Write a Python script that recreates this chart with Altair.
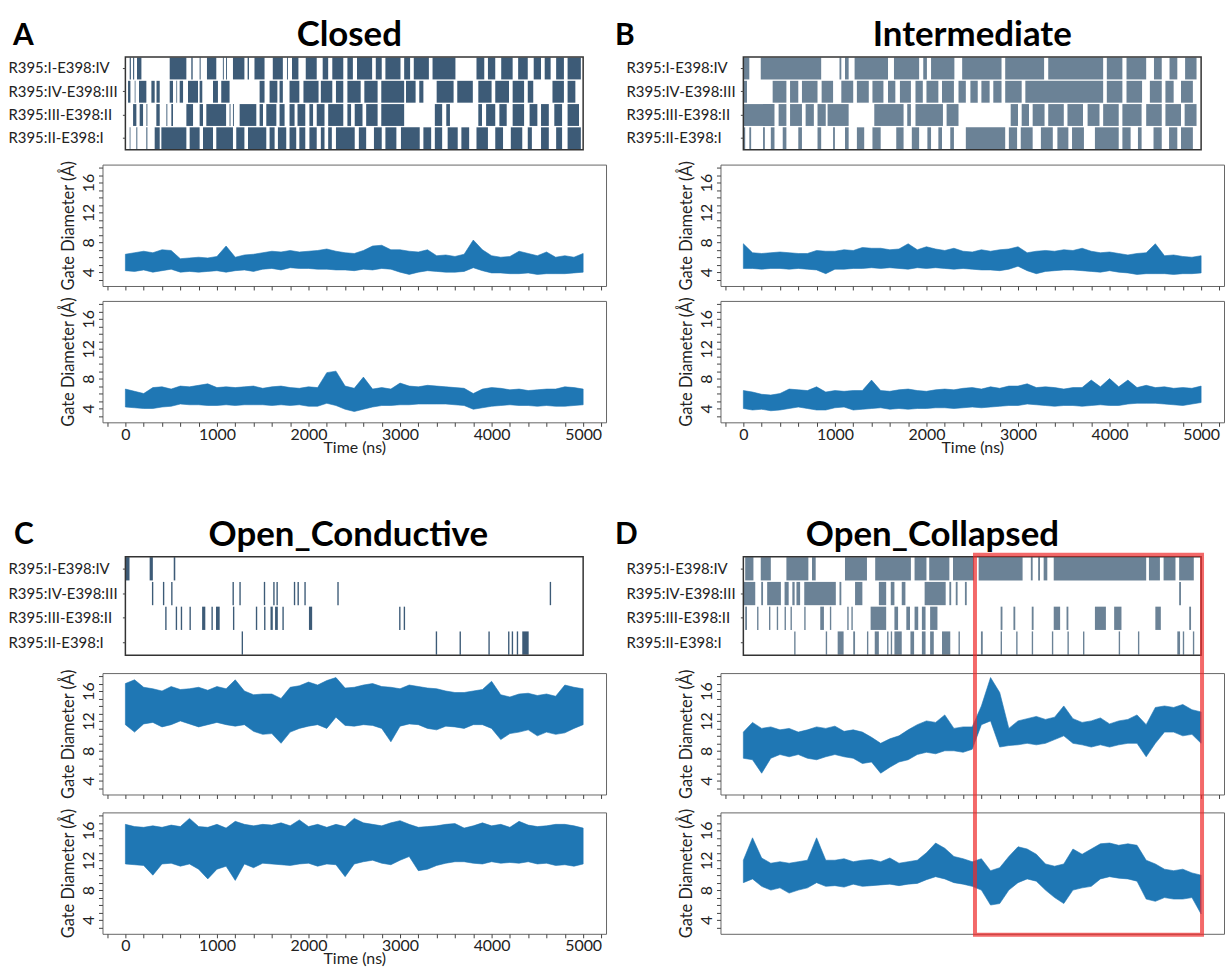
import altair as alt
import pandas as pd

ROWS = ["R395:I-E398:IV", "R395:IV-E398:III", "R395:III-E398:II", "R395:II-E398:I"]
T = list(range(0, 5001, 100))
X_TICKS = list(range(-200, 5201, 200))
BC_TICKS = list(range(0, 5001, 200))
Y_TICKS = list(range(3, 19))

# ---- contact barcodes: [start, end, start, end, ...] in ns ----
A_R1 = [47,60, 84,96, 127,175, 484,666, 720,735, 811,822, 891,993, 1065,1075, 1100,1110, 1175,1300, 1335,1350, 1410,1520, 1610,1720, 1765,1775, 1820,1890, 1970,2090, 2155,2215, 2260,2380, 2425,2485, 2530,2695, 2735,2800, 2840,3005, 3045,3110, 3150,3315, 3355,3605, 3835,3920, 3960,4040, 4105,4230, 4290,4395, 4460,4540, 4580,4645, 4705,4790, 4830,4975]
A_R2 = [29,55, 102,110, 149,229, 284,320, 340,375, 484,520, 557,565, 593,630, 684,793, 811,840, 957,1011, 1047,1138, 1466,1520, 1575,1660, 1684,1720, 1793,1900, 1945,2110, 2135,2260, 2300,2380, 2425,2570, 2610,2755, 2795,3045, 3065,3170, 3210,3255, 3400,3585, 3625,3795, 3855,4000, 4040,4190, 4230,4355, 4395,4455, 4665,4790, 4830,4915]
A_R3 = [84,120, 156,193, 230,240, 338,375, 448,458, 502,520, 666,739, 811,848, 884,1100, 1138,1148, 1175,1185, 1248,1430, 1466,1503, 1539,1649, 1684,1739, 1793,1848, 1880,1965, 2010,2050, 2090,2175, 2215,2380, 2425,2465, 2505,2590, 2630,2755, 2795,3045, 3380,3460, 3505,3545, 3855,3895, 3940,4040, 4085,4165, 4230,4355, 4415,4500, 4540,4625, 4685,4770, 4830,4955]
A_R4 = [47,55, 120,130, 229,240, 320,375, 393,666, 702,811, 848,957, 993,1175, 1211,1300, 1339,1539, 1575,1630, 1666,1757, 1793,1866, 1900,1965, 2010,2090, 2135,2175, 2215,2255, 2300,2505, 2550,2630, 2715,2800, 2840,2960, 3010,3215, 3255,3340, 3380,3460, 3520,3630, 3670,3755, 3835,3960, 4040,4125, 4210,4335, 4395,4440, 4540,4625, 4705,4770, 4830,4975]

B_R1 = [0,65, 190,850, 1050,1070, 1110,1150, 1215,1580, 1645,1920, 1965,2005, 2050,2305, 2390,2820, 2860,3285, 3330,3930, 3970,4140, 4185,4400, 4485,4570, 4655,4740, 4825,4950]
B_R2 = [0,40, 320,470, 510,600, 640,810, 855,980, 1070,1200, 1240,1370, 1410,1530, 1580,1660, 1710,1830, 1880,1960, 2000,2130, 2170,2300, 2350,2430, 2480,2560, 2600,2690, 2730,2820, 2860,3040, 3080,3930, 3970,4140, 4185,4355, 4440,4570, 4610,4700, 4780,4910]
B_R3 = [0,340, 385,470, 510,640, 680,770, 810,900, 920,1150, 1430,1750, 1790,1830, 1880,2180, 2220,2350, 2920,3000, 3040,3120, 3160,3290, 3330,3500, 3540,3710, 3760,3890, 3930,4100, 4140,4350, 4400,4570, 4610,4780, 4820,4950]
B_R4 = [0,20, 65,85, 215,235, 300,340, 430,470, 600,640, 810,850, 980,1000, 1110,1150, 1240,1320, 1410,1500, 1670,1750, 1840,1920, 2010,2050, 2130,2170, 2260,2300, 2430,2860, 2900,2990, 3030,3160, 3250,3380, 3430,3550, 3590,3720, 3840,4100, 4140,4230, 4310,4350, 4480,4570, 4650,4740, 4780,4910]

C_R1 = [0,45, 265,300, 528,545]
C_R2 = [290,305, 410,425, 500,515, 1170,1185, 1245,1260, 1512,1527, 1615,1630, 1650,1665, 1840,1855, 1880,1895, 1955,1970, 2315,2330, 4635,4650]
C_R3 = [435,450, 550,565, 605,620, 700,715, 838,873, 940,955, 990,1030, 1175,1190, 1425,1440, 1515,1530, 1585,1610, 1635,1665, 1715,1730, 2005,2040, 2990,3005, 3040,3055]
C_R4 = [1270,1285, 3390,3405, 3650,3665, 3965,3980, 4180,4195, 4220,4235, 4275,4290, 4335,4405]

D_R1 = [20,110, 190,300, 470,710, 750,790, 1110,1350, 1440,1830, 1870,2000, 2030,2250, 2290,2520, 2570,3050, 3140,3160, 3220,3240, 3280,3320, 3390,4400, 4430,4550, 4590,4720, 4760,4920]
D_R2 = [0,130, 195,215, 260,410, 450,495, 535,560, 580,620, 665,1010, 1050,1070, 1220,1300, 1480,1560, 1610,1650, 1730,1770, 1980,2210, 2250,2270, 2320,2340, 2420,2440, 4760,4780]
D_R3 = [20,40, 150,165, 280,295, 365,380, 450,465, 515,530, 665,680, 840,880, 945,960, 1135,1150, 1180,1195, 1390,1560, 1650,1690, 1780,1820, 1870,1910, 1950,1990, 2040,2120, 2810,2830, 2950,2970, 3150,3170, 3390,3460, 3530,3550, 3840,3960, 4050,4130, 4500,4560, 4870,4890]
D_R4 = [555,570, 900,915, 1030,1095, 1200,1220, 1350,1365, 1435,1480, 1570,1585, 1610,1625, 1650,1730, 1825,1865, 1950,1990, 2040,2080, 2170,2260, 2350,2365, 2595,2615, 2810,2825, 2980,2995, 3150,3165, 3370,3385, 3540,3555, 3710,3725, 4100,4115, 4310,4325, 4740,4770, 4800,4815, 4910,4925]

# ---- gate diameter envelopes (min / max) every 100 ns ----
A1_LO = [4.2,4.1,4.3,4.0,4.2,4.4,4.0,4.1,4.0,4.1, 4.2,4.0,4.2,4.3,4.1,4.4,4.5,4.3,4.6,4.5, 4.5,4.4,4.4,4.3,4.3,4.2,4.4,4.3,4.5,4.4, 4.0,3.7,4.0,4.2,4.1,4.0,4.0,4.1,4.6,4.2, 3.9,3.9,3.8,3.8,3.9,3.7,3.8,3.8,3.8,3.9, 4.0]
A1_HI = [6.4,6.6,6.8,6.6,7.0,6.9,5.8,5.9,6.0,5.9, 6.1,7.5,6.0,6.3,6.4,6.6,6.8,6.7,6.9,6.7, 6.8,6.9,7.1,6.8,6.6,6.5,6.9,7.5,7.6,7.0, 7.0,6.8,6.7,7.0,6.2,6.3,6.1,6.4,8.3,7.0, 6.2,6.0,6.1,6.8,6.5,6.2,6.7,6.0,6.2,6.0, 6.5]
A2_LO = [4.2,4.1,4.0,4.0,4.2,4.3,4.6,4.5,4.5,4.4, 4.4,4.5,4.4,4.5,4.5,4.5,4.4,4.5,4.4,4.5, 4.3,4.3,4.7,4.4,3.9,3.6,3.9,4.2,4.4,4.4, 4.5,4.5,4.6,4.6,4.6,4.6,4.5,4.4,3.9,4.1, 4.3,4.4,4.5,4.4,4.4,4.3,4.4,4.3,4.3,4.4, 4.5]
A2_HI = [6.6,6.3,6.0,6.8,6.9,6.6,7.0,6.9,7.1,7.3, 6.8,6.9,6.8,6.9,7.0,6.7,6.9,7.0,6.8,6.7, 6.9,6.8,8.8,9.0,7.0,6.7,8.2,6.6,6.8,6.6, 7.4,7.0,6.9,7.1,7.0,6.9,6.8,6.7,6.0,6.6, 6.8,6.7,6.5,6.6,6.4,6.5,6.6,6.6,6.9,6.8, 6.6]
B1_LO = [4.5,4.5,4.4,4.5,4.5,4.4,4.5,4.4,4.3,3.8, 4.4,4.4,4.5,4.5,4.6,4.5,4.6,4.5,4.4,4.6, 4.5,4.6,4.5,4.4,4.5,4.4,4.3,4.3,4.2,4.4, 4.8,4.2,3.8,4.1,4.2,4.3,4.3,4.2,4.1,4.0, 4.2,4.0,3.9,3.7,3.8,3.8,3.8,3.7,3.8,3.8, 3.9]
B1_HI = [7.8,6.6,6.5,6.6,6.7,6.6,6.5,6.5,6.9,6.8, 6.8,7.0,6.9,7.3,7.2,7.2,7.0,7.1,7.8,7.0, 7.4,7.1,6.9,7.2,6.8,6.7,7.0,6.8,7.0,7.1, 7.4,6.6,6.8,6.9,6.8,7.0,6.9,7.2,6.8,6.6, 6.7,6.5,6.3,6.5,6.6,7.8,6.2,6.3,6.1,6.0, 6.2]
B2_LO = [4.0,3.8,3.9,3.7,3.8,4.0,4.2,4.0,3.8,3.8, 4.1,4.2,3.8,3.9,4.0,4.1,3.9,4.0,3.9,4.0, 4.0,4.1,4.1,4.0,4.1,4.2,4.1,4.2,4.3,4.4, 4.4,4.6,4.5,4.4,4.3,4.4,4.4,4.3,4.4,4.5, 4.4,4.4,4.6,4.7,4.7,4.7,4.6,4.5,4.4,4.6, 4.8]
B2_HI = [6.4,6.2,5.9,5.8,6.0,6.6,6.5,6.4,6.9,6.2, 6.4,6.3,6.4,6.4,7.8,6.4,6.3,6.5,6.6,6.4, 6.3,6.5,6.6,6.5,6.7,6.8,6.6,6.9,6.7,7.0, 7.0,7.3,6.8,6.9,6.8,6.6,6.8,6.8,7.8,6.9, 8.0,6.9,7.8,6.8,7.1,6.8,6.9,6.7,6.8,6.7, 7.0]
C1_LO = [11.5,10.5,11.6,11.8,11.2,11.5,12.0,11.6,11.2,11.5, 11.8,11.5,11.3,11.5,10.6,10.2,10.3,9.0,10.5,11.0, 11.3,11.5,11.0,12.5,11.4,11.3,11.5,11.4,11.0,9.2, 11.3,11.6,11.5,11.0,10.8,11.3,11.2,11.0,11.5,11.5, 11.0,9.5,10.3,10.5,10.8,10.0,10.5,10.2,10.4,11.0, 11.5]
C1_HI = [17.0,17.5,16.5,16.3,16.0,16.6,16.2,16.3,16.5,16.1, 16.6,16.3,17.5,16.0,15.5,15.6,15.6,15.0,16.5,16.7, 17.2,16.8,17.4,17.8,16.4,16.5,16.8,17.0,16.6,16.5, 16.3,16.8,16.6,16.4,16.3,16.0,15.8,15.8,16.0,16.2, 17.3,15.5,15.2,15.6,15.7,15.4,15.6,15.3,16.8,16.5, 16.3]
C2_LO = [11.5,11.4,11.3,10.0,11.5,11.6,11.2,11.5,10.8,9.5, 10.8,11.2,9.3,11.5,11.0,11.6,11.5,11.4,11.3,11.5, 11.6,11.2,11.5,11.4,9.8,11.5,11.8,12.0,11.6,11.4, 12.0,12.5,10.6,10.8,11.3,11.6,11.8,11.8,11.6,11.5, 11.8,11.6,11.7,11.6,11.8,11.5,11.6,11.3,11.4,11.2, 11.5]
C2_HI = [16.8,16.5,16.4,16.6,16.4,16.7,16.5,17.6,16.5,16.4, 16.8,16.3,17.2,16.8,16.6,16.8,16.7,17.0,16.6,17.4, 16.5,16.8,16.4,16.8,16.5,17.6,17.0,16.8,16.6,17.0, 17.3,16.8,16.4,16.5,16.6,16.8,16.9,16.3,16.6,17.0, 16.6,16.8,16.4,17.2,16.7,16.5,16.6,16.8,16.8,16.6, 16.3]
D1_LO = [7.0,6.8,5.0,7.0,7.5,7.2,7.5,7.0,6.8,7.2, 7.5,7.2,7.0,6.3,6.5,5.0,5.8,6.5,6.8,7.5, 7.8,7.6,8.0,8.0,7.8,8.2,11.5,12.0,8.5,8.7, 8.8,9.0,8.8,9.0,9.5,10.0,9.0,8.8,8.5,8.8, 8.5,8.8,9.0,9.0,7.2,9.0,10.5,10.5,10.0,10.2, 9.0]
D1_HI = [10.5,11.8,11.0,11.2,10.8,11.0,10.5,10.8,11.2,11.0, 11.3,10.6,10.8,10.5,9.8,9.0,9.6,10.0,10.8,11.5, 12.0,11.8,12.8,11.0,11.2,11.2,14.0,17.8,15.8,11.0, 12.0,12.3,12.6,12.2,12.5,14.0,12.3,11.8,12.0,12.4, 11.6,12.0,12.2,12.8,11.5,13.8,14.0,13.8,14.2,13.5, 13.2]
D2_LO = [9.0,9.5,8.5,8.0,8.3,7.6,8.0,8.3,9.0,8.5, 8.6,8.4,8.8,8.5,8.6,8.7,8.8,8.6,8.8,8.9, 9.4,9.8,9.5,9.0,8.8,8.5,8.0,6.0,6.2,8.0, 9.0,9.5,9.2,8.0,7.0,6.2,8.0,8.3,8.5,9.5, 9.8,9.6,9.5,9.2,6.8,6.5,7.0,6.8,6.8,7.0, 4.8]
D2_HI = [12.0,15.0,12.3,11.6,11.8,11.6,11.8,12.0,15.0,12.0, 12.0,12.2,11.8,12.0,12.1,11.8,12.3,11.6,11.8,12.0, 13.0,14.3,13.6,12.5,12.2,11.8,12.2,10.6,11.0,12.5, 13.8,13.5,12.8,11.5,11.2,11.5,13.5,12.8,13.5,14.2, 14.3,14.0,14.2,14.0,12.0,11.5,10.8,10.6,10.8,10.3, 10.0]

HIGHLIGHT_START = [2530]
HIGHLIGHT_END = [5010]

TITLES = ["Closed", "Intermediate", "Open_Conductive", "Open_Collapsed"]
LETTERS = ["A", "B", "C", "D"]

BLUE = "#1f77b4"
DARK_BAR = "#3d5b77"
LIGHT_BAR = "#6b8296"
FONT = "Lato"
W = 506
XDOM = [-250, 5250]
YDOM = [2.15, 18.4]


def barcode(rows, color, title, height, dx=0):
    recs = []
    for name, flat in zip(ROWS, rows):
        for i in range(0, len(flat), 2):
            recs.append({"row": name, "s": flat[i], "e": flat[i + 1]})
    df = pd.DataFrame(recs)
    xs = alt.Scale(domain=XDOM, nice=False, zero=False)
    bars = alt.Chart(df).mark_rect(color=color).encode(
        x=alt.X("s:Q", scale=xs,
                axis=alt.Axis(values=BC_TICKS, labels=False, title=None, tickSize=5,
                              domain=False, grid=False, tickColor="#444")),
        x2="e:Q",
        y=alt.Y("row:N", sort=ROWS,
                scale=alt.Scale(domain=ROWS, paddingInner=0.06, paddingOuter=0.02),
                axis=alt.Axis(title=None, offset=-23, tickSize=3, domain=False, grid=False,
                              labelFontSize=15, labelPadding=115, labelAlign="left",
                              labelColor="#222", tickColor="#444", labelLimit=200)),
    )
    frame = alt.Chart(pd.DataFrame({"a": [0], "b": [5000]})).mark_rect(
        fillOpacity=0, stroke="#333", strokeWidth=1.5
    ).encode(x=alt.X("a:Q", axis=None), x2="b:Q", y=alt.value(0), y2=alt.value(height))
    return alt.layer(bars, frame).properties(
        width=W, height=height,
        title=alt.Title(title, fontSize=35, font=FONT, fontWeight="bold", anchor="middle",
                        offset=3, dx=dx, color="black"),
        view=alt.ViewBackground(stroke="transparent"),
    )


def trace(lo, hi, height, bottom, extra=None):
    df = pd.DataFrame({"t": T, "lo": lo, "hi": hi})
    xkw = dict(values=X_TICKS, format="d", tickSize=4, domain=False, grid=False,
               tickColor="#444", labelFontSize=16, labelColor="#222",
               labelExpr="datum.value % 1000 == 0 && datum.value >= 0 ? datum.label : ''",
               labelPadding=0)
    if bottom:
        xkw.update(title="Time (ns)", titleFontSize=16, titlePadding=-3, titleColor="#222",
                   titleFontWeight="normal")
    else:
        xkw.update(labels=False, title=None)
    yax = alt.Axis(values=Y_TICKS, labelExpr="datum.value % 4 == 0 ? datum.label : ''",
                   labelAngle=270, labelAlign="center", labelBaseline="bottom",
                   title="Gate Diameter (Å)", titleFontSize=16.5, titleColor="#222",
                   titleFontWeight="normal", titlePadding=4,
                   labelFontSize=16, labelColor="#222", tickSize=4, domain=False,
                   grid=False, tickColor="#444", labelPadding=2)
    area = alt.Chart(df).mark_area(color=BLUE, opacity=1, stroke=BLUE, strokeWidth=0.6).encode(
        x=alt.X("t:Q", scale=alt.Scale(domain=XDOM, nice=False, zero=False), axis=alt.Axis(**xkw)),
        y=alt.Y("lo:Q", scale=alt.Scale(domain=YDOM, nice=False, zero=False), axis=yax),
        y2="hi:Q",
    )
    layers = [area]
    if extra is not None:
        layers.append(extra)
    return alt.layer(*layers).properties(width=W, height=height)


highlight = alt.Chart(pd.DataFrame({"x1": HIGHLIGHT_START, "x2": HIGHLIGHT_END})).mark_rect(
    fillOpacity=0, stroke="#ee2a2a", strokeOpacity=0.7, strokeWidth=4
).encode(x=alt.X("x1:Q", axis=None), x2="x2:Q", y=alt.value(-259), y2=alt.value(123))


def panel(letter, bc, l1, l2, sp, ldx):
    return alt.vconcat(
        bc, l1, l2, spacing=sp, bounds="flush",
        title=alt.Title(letter, anchor="start", fontSize=30, font=FONT, fontWeight="bold",
                        color="black", frame="group", dx=ldx, dy=33, offset=0),
    )


pA = panel("A", barcode([A_R1, A_R2, A_R3, A_R4], DARK_BAR, TITLES[0], 93, dx=-5),
           trace(A1_LO, A1_HI, 122, False), trace(A2_LO, A2_HI, 122, True), 15, -90)
pB = panel("B", barcode([B_R1, B_R2, B_R3, B_R4], LIGHT_BAR, TITLES[1], 93),
           trace(B1_LO, B1_HI, 122, False), trace(B2_LO, B2_HI, 122, True), 15, -106)
pC = panel("C", barcode([C_R1, C_R2, C_R3, C_R4], DARK_BAR, TITLES[2], 99, dx=-6),
           trace(C1_LO, C1_HI, 122, False), trace(C2_LO, C2_HI, 122, True), 18, -89)
pD = panel("D", barcode([D_R1, D_R2, D_R3, D_R4], LIGHT_BAR, TITLES[3], 99, dx=-40),
           trace(D1_LO, D1_HI, 122, False), trace(D2_LO, D2_HI, 122, True, extra=highlight), 18, -106)

row1 = alt.hconcat(pA, pB, spacing=8)
row2 = alt.hconcat(pC, pD, spacing=8)

chart = alt.vconcat(row1, row2, spacing=61).configure(
    font=FONT, padding={"left": 7, "top": 15, "right": 0, "bottom": 5}
).configure_view(stroke="#666", strokeWidth=1).configure_axis(
    labelFont=FONT, titleFont=FONT
)

chart.save("out.html", embed_options={"renderer": "svg", "actions": False})
